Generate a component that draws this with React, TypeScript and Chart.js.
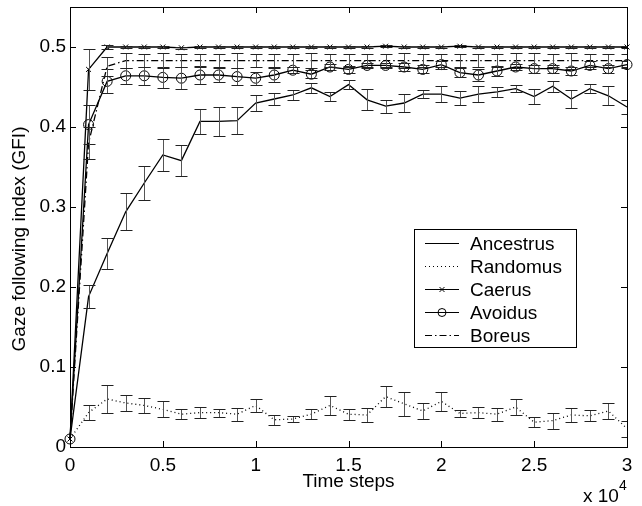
import { useEffect, useRef } from 'react';
import { Chart, registerables } from 'chart.js';

Chart.register(...registerables);

// Time steps (in units of 10^4)
const steps = [0, 0.1, 0.2, 0.3, 0.4, 0.5, 0.6, 0.7, 0.8, 0.9, 1.0, 1.1, 1.2, 1.3, 1.4, 1.5, 1.6, 1.7, 1.8, 1.9, 2.0, 2.1, 2.2, 2.3, 2.4, 2.5, 2.6, 2.7, 2.8, 2.9, 3.0];

const ancestrus = [0.010, 0.188, 0.242, 0.294, 0.330, 0.365, 0.358, 0.407, 0.407, 0.408, 0.430, 0.435, 0.440, 0.449, 0.438, 0.453, 0.434, 0.426, 0.430, 0.441, 0.441, 0.436, 0.441, 0.444, 0.448, 0.438, 0.451, 0.435, 0.448, 0.439, 0.425];
const ancestrusErr = [0, 0.014, 0.019, 0.023, 0.021, 0.020, 0.019, 0.016, 0.018, 0.017, 0.010, 0.008, 0.006, 0.006, 0.006, 0.006, 0.013, 0.008, 0.011, 0.005, 0.010, 0.009, 0.010, 0.006, 0.004, 0.009, 0.007, 0.011, 0.006, 0.012, 0.009];

const randomus = [0.010, 0.043, 0.060, 0.055, 0.052, 0.047, 0.041, 0.043, 0.043, 0.041, 0.052, 0.034, 0.035, 0.041, 0.052, 0.041, 0.040, 0.063, 0.054, 0.045, 0.057, 0.042, 0.043, 0.041, 0.050, 0.031, 0.033, 0.040, 0.039, 0.045, 0.023];
const randomusErr = [0, 0.009, 0.017, 0.010, 0.009, 0.010, 0.006, 0.007, 0.005, 0.008, 0.008, 0.006, 0.004, 0.006, 0.012, 0.007, 0.009, 0.013, 0.015, 0.010, 0.012, 0.004, 0.007, 0.008, 0.010, 0.006, 0.010, 0.009, 0.007, 0.010, 0.010];

const caerus = [0.010, 0.472, 0.500, 0.500, 0.500, 0.500, 0.499, 0.500, 0.500, 0.500, 0.500, 0.500, 0.500, 0.500, 0.500, 0.500, 0.500, 0.501, 0.500, 0.500, 0.500, 0.501, 0.500, 0.500, 0.500, 0.500, 0.500, 0.500, 0.500, 0.500, 0.500];
const caerusErr = [0, 0.026, 0.002, 0.001, 0.001, 0.001, 0.001, 0.001, 0.001, 0.001, 0.001, 0.001, 0.001, 0.001, 0.001, 0.001, 0.001, 0.001, 0.001, 0.001, 0.001, 0.001, 0.001, 0.001, 0.001, 0.001, 0.001, 0.001, 0.001, 0.001, 0.001];

const avoidus = [0.010, 0.403, 0.457, 0.464, 0.464, 0.462, 0.461, 0.465, 0.465, 0.463, 0.461, 0.465, 0.471, 0.466, 0.475, 0.472, 0.477, 0.477, 0.475, 0.472, 0.478, 0.468, 0.465, 0.470, 0.475, 0.473, 0.473, 0.470, 0.477, 0.473, 0.478];
const avoidusErr = [0, 0.024, 0.015, 0.010, 0.011, 0.013, 0.014, 0.011, 0.009, 0.011, 0.008, 0.009, 0.004, 0.005, 0.004, 0.004, 0.003, 0.003, 0.005, 0.005, 0.005, 0.006, 0.007, 0.006, 0.004, 0.005, 0.005, 0.005, 0.005, 0.005, 0.004];

const boreus = [0.010, 0.380, 0.476, 0.483, 0.483, 0.483, 0.483, 0.483, 0.483, 0.483, 0.483, 0.483, 0.483, 0.483, 0.483, 0.483, 0.483, 0.483, 0.483, 0.483, 0.483, 0.483, 0.483, 0.483, 0.483, 0.483, 0.483, 0.483, 0.483, 0.483, 0.483];
const boreusErr = [0, 0.020, 0.012, 0.009, 0.008, 0.009, 0.008, 0.008, 0.008, 0.009, 0.008, 0.008, 0.008, 0.009, 0.008, 0.008, 0.008, 0.008, 0.009, 0.008, 0.008, 0.008, 0.008, 0.008, 0.009, 0.009, 0.008, 0.010, 0.008, 0.008, 0.008];

const seriesNames = ['Ancestrus', 'Randomus', 'Caerus', 'Avoidus', 'Boreus'];

const xTickValues = [0, 0.5, 1, 1.5, 2, 2.5, 3];
const xTickLabels = ['0', '0.5', '1', '1.5', '2', '2.5', '3'];
const yTickValues = [0, 0.1, 0.2, 0.3, 0.4, 0.5];
const yTickLabels = ['0', '0.1', '0.2', '0.3', '0.4', '0.5'];

const xTitle = 'Time steps';
const yTitle = 'Gaze following index (GFI)';
const xExponentBase = 'x 10';
const xExponent = '4';

const FONT = '"Liberation Sans", Arial, Helvetica, sans-serif';
const FS = 19;

type Style = { dash: number[]; marker: string | false; radius: number };
const styles: Style[] = [
  { dash: [], marker: false, radius: 0 },
  { dash: [1, 3], marker: false, radius: 0 },
  { dash: [], marker: 'crossRot', radius: 3.5 },
  { dash: [], marker: 'circle', radius: 5 },
  { dash: [7, 3, 1.5, 3], marker: false, radius: 0 },
];

const values = [ancestrus, randomus, caerus, avoidus, boreus];
const errors = [ancestrusErr, randomusErr, caerusErr, avoidusErr, boreusErr];

const errorBarPlugin = {
  id: 'errorBars',
  afterDatasetsDraw(chart: any) {
    const { ctx, chartArea, scales } = chart;
    const x = scales.x, y = scales.y;
    ctx.save();
    ctx.beginPath();
    ctx.rect(chartArea.left, chartArea.top, chartArea.right - chartArea.left, chartArea.bottom - chartArea.top);
    ctx.clip();
    ctx.lineWidth = 1;
    values.forEach((vals, si) => {
      const errs = errors[si];
      steps.forEach((s, i) => {
        const e = errs[i];
        if (!e) return;
        const px = Math.round(x.getPixelForValue(s)) + 0.5;
        const yTop = Math.round(y.getPixelForValue(vals[i] + e)) + 0.5;
        const yBot = Math.round(y.getPixelForValue(vals[i] - e)) + 0.5;
        ctx.strokeStyle = '#555';
        ctx.beginPath();
        ctx.moveTo(px, yTop);
        ctx.lineTo(px, yBot);
        ctx.stroke();
        ctx.strokeStyle = '#222';
        ctx.beginPath();
        ctx.moveTo(px - 6, yTop);
        ctx.lineTo(px + 6, yTop);
        ctx.moveTo(px - 6, yBot);
        ctx.lineTo(px + 6, yBot);
        ctx.stroke();
      });
    });
    ctx.restore();
  },
};

function drawMarker(ctx: CanvasRenderingContext2D, kind: string | false, cx: number, cy: number, r: number) {
  if (!kind) return;
  ctx.beginPath();
  if (kind === 'circle') {
    ctx.arc(cx, cy, r, 0, Math.PI * 2);
  } else if (kind === 'crossRot') {
    const d = r * Math.SQRT1_2;
    ctx.moveTo(cx - d, cy - d);
    ctx.lineTo(cx + d, cy + d);
    ctx.moveTo(cx - d, cy + d);
    ctx.lineTo(cx + d, cy - d);
  }
  ctx.stroke();
}

const framePlugin = {
  id: 'frameAndText',
  afterDraw(chart: any) {
    const { ctx, chartArea, scales } = chart;
    const x = scales.x, y = scales.y;
    const L = chartArea.left, R = chartArea.right, T = chartArea.top, B = chartArea.bottom;
    ctx.save();
    ctx.strokeStyle = '#000';
    ctx.lineWidth = 1;
    // frame
    ctx.strokeRect(Math.round(L) + 0.5, Math.round(T) + 0.5, Math.round(R - L), Math.round(B - T));
    // inward ticks
    const tl = 6;
    ctx.beginPath();
    xTickValues.forEach((v) => {
      const px = Math.round(x.getPixelForValue(v)) + 0.5;
      ctx.moveTo(px, B);
      ctx.lineTo(px, B - tl);
      ctx.moveTo(px, T);
      ctx.lineTo(px, T + tl);
    });
    yTickValues.forEach((v) => {
      const py = Math.round(y.getPixelForValue(v)) + 0.5;
      ctx.moveTo(L, py);
      ctx.lineTo(L + tl, py);
      ctx.moveTo(R, py);
      ctx.lineTo(R - tl, py);
    });
    ctx.stroke();

    // titles
    ctx.fillStyle = '#000';
    ctx.font = `${FS}px ${FONT}`;
    ctx.textAlign = 'center';
    ctx.textBaseline = 'alphabetic';
    ctx.fillText(xTitle, (L + R) / 2, 487);
    ctx.save();
    ctx.translate(25, 239);
    ctx.rotate(-Math.PI / 2);
    ctx.fillText(yTitle, 0, 0);
    ctx.restore();

    // exponent
    ctx.textAlign = 'left';
    ctx.fillText(xExponentBase, 583, 502);
    ctx.font = `14px ${FONT}`;
    ctx.fillText(xExponent, 619, 490);

    // legend
    const bx = 414.5, by = 229.5, bw = 162, bh = 118;
    ctx.fillStyle = '#fff';
    ctx.fillRect(bx, by, bw, bh);
    ctx.strokeStyle = '#000';
    ctx.strokeRect(bx, by, bw, bh);
    ctx.font = `${FS}px ${FONT}`;
    ctx.textBaseline = 'middle';
    seriesNames.forEach((name, i) => {
      const ly = Math.round(243 + i * 23) + 0.5;
      const st = styles[i];
      ctx.strokeStyle = '#000';
      ctx.lineWidth = 1;
      ctx.setLineDash(st.dash);
      ctx.beginPath();
      ctx.moveTo(425, ly);
      ctx.lineTo(459, ly);
      ctx.stroke();
      ctx.setLineDash([]);
      drawMarker(ctx, st.marker, 442, ly, st.marker === 'circle' ? 4 : 3.5);
      ctx.fillStyle = '#000';
      ctx.fillText(name, 470, ly + 1);
    });
    ctx.restore();
  },
};

export default function App() {
  const ref = useRef<HTMLCanvasElement>(null);
  useEffect(() => {
    document.body.style.margin = '0';
    const canvas = ref.current;
    if (!canvas) return;
    const datasets = values.map((vals, si) => {
      const st = styles[si];
      return {
        label: seriesNames[si],
        data: steps.map((s, i) => ({ x: s, y: vals[i] })),
        borderColor: '#000',
        backgroundColor: 'rgba(0,0,0,0)',
        borderWidth: 1.3,
        borderDash: st.dash,
        pointStyle: st.marker || 'circle',
        pointRadius: st.radius,
        pointBorderColor: '#000',
        pointBackgroundColor: 'rgba(0,0,0,0)',
        pointBorderWidth: 1,
        tension: 0,
        fill: false,
        clip: false as any,
      };
    });
    const font = { family: FONT, size: FS };
    const chart = new Chart(canvas, {
      type: 'line',
      data: { datasets },
      options: {
        responsive: false,
        animation: false,
        events: [],
        layout: { padding: { top: 7, right: 15, left: 0, bottom: 0 } },
        plugins: { legend: { display: false }, tooltip: { enabled: false } },
        scales: {
          x: {
            type: 'linear',
            min: 0,
            max: 3,
            afterBuildTicks: (ax: any) => {
              ax.ticks = xTickValues.map((v) => ({ value: v }));
            },
            afterFit: (ax: any) => {
              ax.height = 59;
              ax.paddingLeft = 0;
              ax.paddingRight = 0;
            },
            ticks: {
              font,
              color: '#000',
              padding: 7,
              autoSkip: false,
              maxRotation: 0,
              callback: (_v: any, i: number) => xTickLabels[i],
            },
            grid: { display: false, drawTicks: false },
            border: { display: false },
          },
          y: {
            type: 'linear',
            min: 0,
            max: 0.55,
            afterBuildTicks: (ax: any) => {
              ax.ticks = yTickValues.map((v) => ({ value: v }));
            },
            afterFit: (ax: any) => {
              ax.width = 70;
              ax.paddingTop = 0;
              ax.paddingBottom = 0;
            },
            ticks: {
              font,
              color: '#000',
              padding: 4,
              autoSkip: false,
              callback: (_v: any, i: number) => yTickLabels[i],
            },
            grid: { display: false, drawTicks: false },
            border: { display: false },
          },
        },
      },
      plugins: [errorBarPlugin, framePlugin],
    });
    return () => chart.destroy();
  }, []);
  return <canvas ref={ref} width={642} height={506} style={{ display: 'block' }} />;
}
